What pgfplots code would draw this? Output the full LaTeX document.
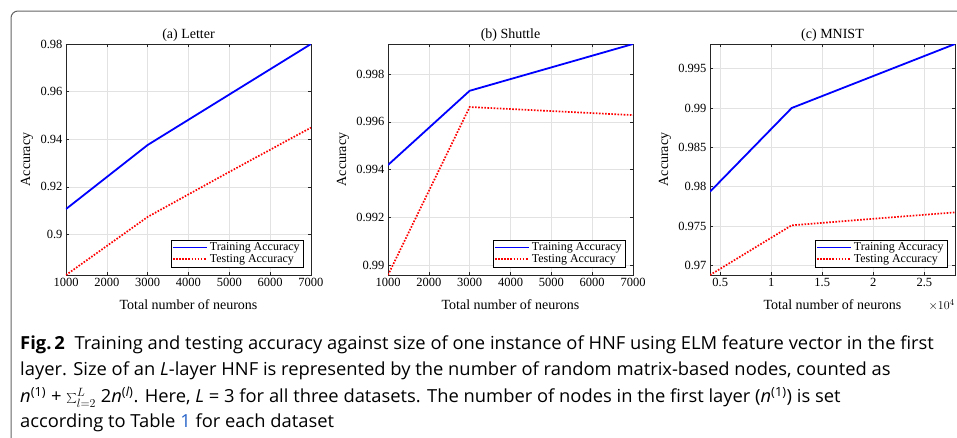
\documentclass[border=0pt]{standalone}
\usepackage{fontspec}
\setmainfont{Liberation Serif}
\newfontfamily\capfont[FakeStretch=1.02]{Open Sans}
\usepackage{pgfplots}
\pgfplotsset{compat=1.18}

\definecolor{gridgray}{RGB}{226,226,226}
\definecolor{framegray}{RGB}{100,100,100}
\definecolor{linkblue}{RGB}{40,100,200}

\pgfplotsset{
  hnf/.style={
    scale only axis, width=245pt, height=231pt,
    axis line style={black!85, line width=0.7pt},
    grid=major, major grid style={gridgray, line width=0.6pt},
    tick align=inside, major tick length=3pt,
    tick style={black!85, line width=0.6pt},
    scaled x ticks=false, scaled y ticks=false,
    /pgf/number format/assume math mode=true,
    /pgf/number format/1000 sep={},
    yticklabel style={/pgf/number format/fixed, /pgf/number format/precision=3},
    tick label style={font=\fontsize{12.5}{14}\selectfont},
    label style={font=\fontsize{14}{16}\selectfont},
    every axis title shift=0pt,
    title style={font=\fontsize{14}{16}\selectfont, at={(axis description cs:0.5,1.037)}, anchor=center},
    xlabel style={at={(axis description cs:0.5,-0.13)}, anchor=center},
    xlabel={Total number of neurons}, ylabel={Accuracy},
    legend style={at={(axis description cs:0.967,0.035)}, anchor=south east,
      font=\fontsize{12}{13}\selectfont,
      inner sep=1pt, row sep=-2pt},
    legend cell align=left,
    legend image code/.code={\draw[#1] (0pt,0pt) -- (34pt,0pt);},
  },
  train/.style={blue, line width=1.8pt, mark=none},
  test/.style={red, line width=1.7pt, dash pattern=on 1.6pt off 1.5pt, mark=none},
}

\begin{document}
\begin{tikzpicture}[x=1pt, y=1pt]
\useasboundingbox (0,0) rectangle (957,-437);
\draw[framegray, line width=1pt, rounded corners=7pt] (11,-460) -- (11,-11) -- (980,-11);

% (a) Letter
\begin{axis}[hnf, at={(66pt,-275pt)}, anchor=south west,
  title={(a) Letter},
  xmin=1000, xmax=7000, xtick={1000,2000,...,7000},
  ymin=0.883, ymax=0.98, ytick={0.9,0.92,0.94,0.96,0.98},
  ylabel style={at={(axis description cs:-0.159,0.5)}, anchor=center}]
\addplot[train] coordinates {(1000,0.9107) (3000,0.9376) (5000,0.9588) (7000,0.9800)};
\addlegendentry{Training Accuracy}
\addplot[test] coordinates {(1000,0.8830) (3000,0.9074) (5000,0.9263) (7000,0.9449)};
\addlegendentry{Testing Accuracy}
\end{axis}

% (b) Shuttle
\begin{axis}[hnf, at={(388pt,-275pt)}, anchor=south west,
  title={(b) Shuttle},
  xmin=1000, xmax=7000, xtick={1000,2000,...,7000},
  ymin=0.98958, ymax=0.99926, ytick={0.99,0.992,0.994,0.996,0.998},
  ylabel style={at={(axis description cs:-0.184,0.5)}, anchor=center}]
\addplot[train] coordinates {(1000,0.99419) (3000,0.99730) (7000,0.99926)};
\addlegendentry{Training Accuracy}
\addplot[test] coordinates {(1000,0.98958) (3000,0.99662) (7000,0.99628)};
\addlegendentry{Testing Accuracy}
\end{axis}

% (c) MNIST
\begin{axis}[hnf, name=mnist, at={(710pt,-275pt)}, anchor=south west,
  title={(c) MNIST},
  xmin=4000, xmax=28000, xtick={5000,10000,15000,20000,25000},
  xticklabels={0.5,1,1.5,2,2.5},
  ymin=0.96877, ymax=0.99814, ytick={0.97,0.975,0.98,0.985,0.99,0.995},
  ylabel style={at={(axis description cs:-0.184,0.5)}, anchor=center}]
\addplot[train] coordinates {(4000,0.97936) (12000,0.99000) (28000,0.99814)};
\addlegendentry{Training Accuracy}
\addplot[test] coordinates {(4000,0.96877) (12000,0.97509) (28000,0.97674)};
\addlegendentry{Testing Accuracy}
\end{axis}
\node[anchor=north east, font=\fontsize{12.5}{14}\selectfont, inner sep=0pt]
  at ([yshift=-24pt]mnist.south east) {$\times 10^{4}$};

% caption
\begin{scope}[every node/.style={anchor=west, inner sep=0pt, font=\capfont\fontsize{18}{20}\selectfont}]
\node at (20,-345) {\textbf{Fig.\,2}\ \ Training and testing accuracy against size of one instance of HNF using ELM feature vector in the first};
\node at (20,-371) {layer. Size of an \textit{L}-layer HNF is represented by the number of random matrix-based nodes, counted as};
\node at (20,-397) {\textit{n}\textsuperscript{(1)} + $\sum_{l=2}^{L}$ 2\textit{n}\textsuperscript{(\textit{l})}. Here, \textit{L} = 3 for all three datasets. The number of nodes in the first layer (\textit{n}\textsuperscript{(1)}) is set};
\node at (20,-423) {according to Table \textcolor{linkblue}{1} for each dataset};
\end{scope}
\end{tikzpicture}
\end{document}
